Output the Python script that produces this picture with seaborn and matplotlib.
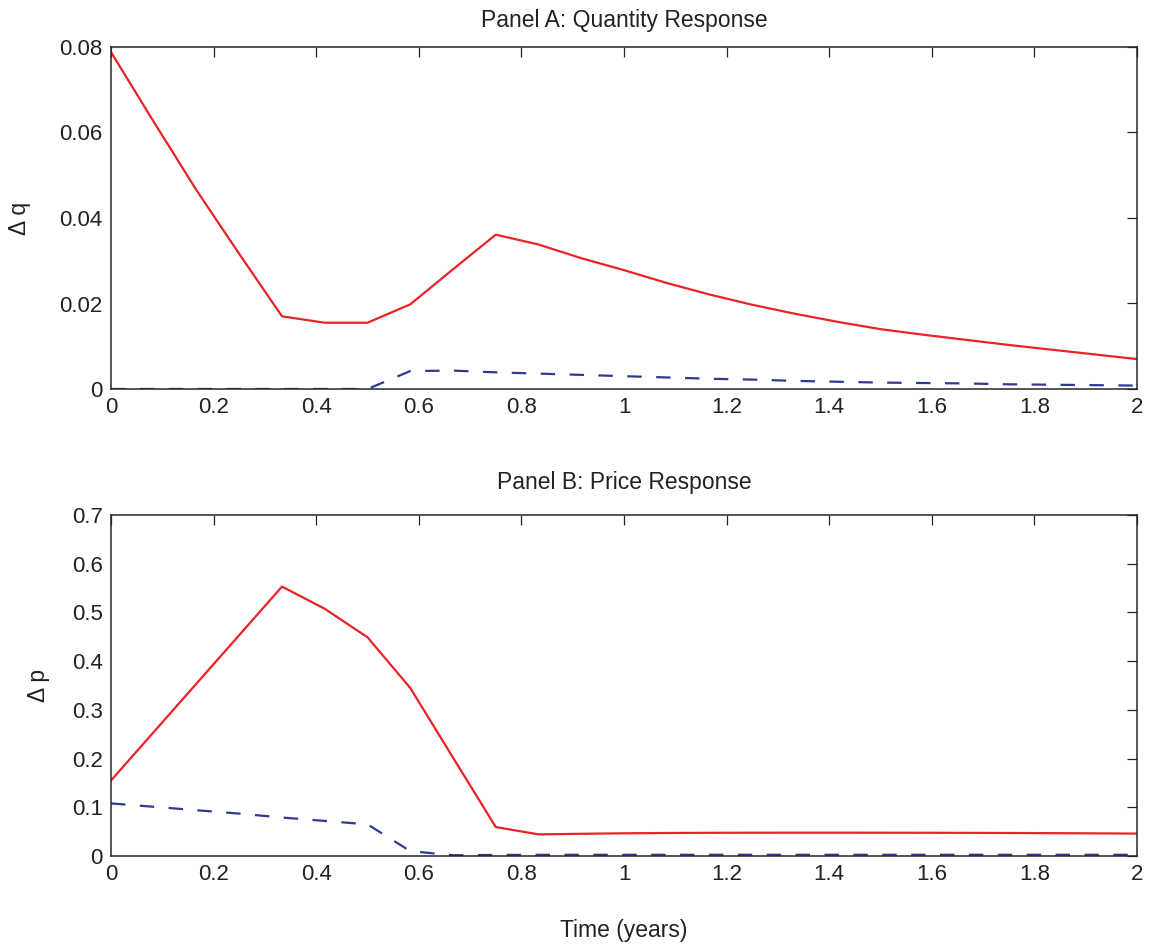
import numpy as np
import pandas as pd
import matplotlib
matplotlib.use("Agg")
import matplotlib.pyplot as plt
import seaborn as sns

# ---- data (monthly, 0..24 months) ----
months = list(range(25))
quantity_solid = [0.0788, 0.0625, 0.0465, 0.0316, 0.0170, 0.0155, 0.0155, 0.0198, 0.0280,
                  0.0361, 0.0338, 0.0306, 0.0278, 0.0248, 0.0221, 0.0197, 0.0176, 0.0157,
                  0.0140, 0.0127, 0.0115, 0.0103, 0.0092, 0.0081, 0.0070]
quantity_dashed = [0, 0, 0, 0, 0, 0, 0, 0.0042, 0.0043, 0.0039, 0.0036, 0.0033, 0.0030,
                   0.0027, 0.0024, 0.0022, 0.0019, 0.0017, 0.0015, 0.0014, 0.0013, 0.0011,
                   0.0010, 0.0009, 0.0008]
price_solid = [0.155, 0.2545, 0.354, 0.4535, 0.553, 0.5075, 0.449, 0.345, 0.202, 0.0594,
               0.0444, 0.0456, 0.0466, 0.0472, 0.0476, 0.0478, 0.0479, 0.0479, 0.0478,
               0.0477, 0.0475, 0.0472, 0.0469, 0.0465, 0.0460]
price_dashed = [0.108, 0.101, 0.094, 0.087, 0.079, 0.072, 0.065, 0.010, 0.0015, 0.0022,
                0.0024, 0.0025, 0.0025, 0.0025, 0.0025, 0.0025, 0.0025, 0.0025, 0.0025,
                0.0025, 0.0025, 0.0025, 0.0025, 0.0025, 0.0025]

titles = ["Panel A: Quantity Response", "Panel B: Price Response"]
ylabels = ["\u0394 q", "\u0394 p"]
xlabel = "Time (years)"
xticks = [0, 0.2, 0.4, 0.6, 0.8, 1, 1.2, 1.4, 1.6, 1.8, 2]
yticks_a = [0, 0.02, 0.04, 0.06, 0.08]
yticks_b = [0, 0.1, 0.2, 0.3, 0.4, 0.5, 0.6, 0.7]

years = np.array(months) / 12.0
df_a = pd.DataFrame({"t": years, "solid": quantity_solid, "dashed": quantity_dashed})
df_b = pd.DataFrame({"t": years, "solid": price_solid, "dashed": price_dashed})

sns.set_theme(style="white")
plt.rcParams["font.family"] = ["Liberation Sans", "DejaVu Sans"]
TXT = "#222222"
RED = "#ec2227"
BLUE = "#2e3a92"

fig = plt.figure(figsize=(11.52, 9.46), dpi=100)
ax_a = fig.add_axes([111 / 1152, 1 - 389 / 946, 1026 / 1152, 342 / 946])
ax_b = fig.add_axes([111 / 1152, 1 - 856 / 946, 1026 / 1152, 341 / 946])

settings = [(ax_a, df_a, titles[0], ylabels[0], yticks_a, 14.5, -0.078),
            (ax_b, df_b, titles[1], ylabels[1], yticks_b, 18.5, -0.059)]
for ax, df, title, ylab, yt, tpad, ylx in settings:
    sns.lineplot(data=df, x="t", y="solid", ax=ax, color=RED, linewidth=1.6)
    sns.lineplot(data=df, x="t", y="dashed", ax=ax, color=BLUE, linewidth=1.6)
    ax.lines[-1].set_dashes([6.5, 6.5])
    ax.set_xlim(0, 2)
    ax.set_ylim(yt[0], yt[-1])
    ax.set_xticks(xticks)
    ax.set_xticklabels([f"{v:g}" for v in xticks])
    ax.set_yticks(yt)
    ax.set_yticklabels([f"{v:g}" for v in yt])
    ax.tick_params(direction="in", length=7, width=0.9, colors="#262626",
                   labelsize=16, labelcolor=TXT, top=True, right=True, pad=6)
    for s in ax.spines.values():
        s.set_color("#262626")
        s.set_linewidth(1.1)
    ax.set_title(title, fontsize=16.5, color=TXT, pad=tpad)
    ax.set_ylabel(ylab, fontsize=16.5, color=TXT)
    ax.yaxis.set_label_coords(ylx, 0.5)
    ax.set_xlabel("")
    ax.grid(False)

ax_b.set_xlabel(xlabel, fontsize=16.5, color=TXT, labelpad=24)

fig.savefig("out.png", dpi=100, facecolor="white")
